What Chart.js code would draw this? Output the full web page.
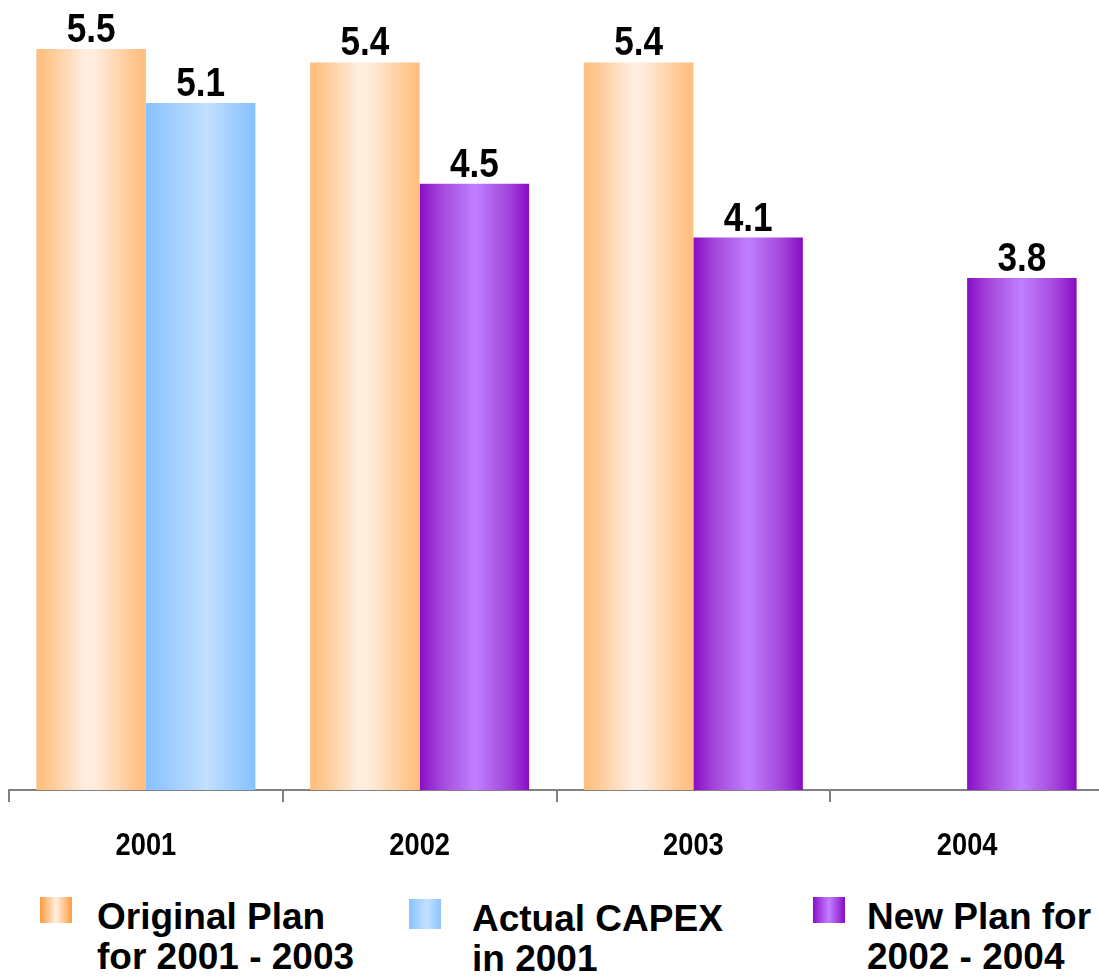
<!DOCTYPE html>
<html>
<head>
<meta charset="utf-8">
<script src="https://cdn.jsdelivr.net/npm/chart.js@4"></script>
<style>
  html, body { margin: 0; padding: 0; background: #fff; overflow: hidden; }
  body { width: 1099px; height: 978px; position: relative; }
  #capex { position: absolute; left: 0; top: 0; }
  .key { position: absolute; font: bold 37px "Liberation Sans", Arial, sans-serif; line-height: 40px; color: #000; white-space: nowrap; }
  .swatch { position: absolute; width: 32px; height: 26px; }
</style>
</head>
<body>
<canvas id="capex" width="1106" height="880"></canvas>

<div class="swatch" style="left:40px; top:897px; background:linear-gradient(90deg,#FF9A3C,#FFF0E2 50%,#FF9A3C);"></div>
<div class="key" style="left:97px; top:897px;">Original Plan<br>for 2001 - 2003</div>
<div class="swatch" style="left:409px; top:899px; height:30px; background:linear-gradient(90deg,#88C2FF,#C4E0FF 55%,#8CC4FF);"></div>
<div class="key" style="left:472px; top:899px;">Actual CAPEX<br>in 2001</div>
<div class="swatch" style="left:813px; top:897px; background:linear-gradient(90deg,#8C10C8,#C080FF 50%,#8A0CC4);"></div>
<div class="key" style="left:867px; top:897px;">New Plan for<br>2002 - 2004</div>

<script>
// CAPEX, bn per year
const years = ['2001', '2002', '2003', '2004'];
const originalPlan = [5.5, 5.4, 5.4, null];
const actualCapex = [5.1, null, null, null];
const newPlan = [null, 4.5, 4.1, 3.8];

// left / right slot of each category
const slotOf = [0, 1, 1];
const catPct = 0.8;

const gradStops = [
    [[0, '#FFBE7D'], [0.1, '#FFC58C'], [0.45, '#FFEFE2'], [0.55, '#FFEBDA'], [0.9, '#FFC58C'], [1, '#FFBE7D']],
    [[0, '#86C1FF'], [0.2, '#9CCBFF'], [0.55, '#C2DFFF'], [0.85, '#9ACAFF'], [1, '#86C1FF']],
    [[0, '#8A0CC6'], [0.2, '#A448DC'], [0.5, '#C080FF'], [0.8, '#A448DC'], [1, '#8A0CC4']]
];
const flatColors = ['#FFC890', '#A8D2FF', '#A850E0'];

function barFill(ctx) {
    const ds = ctx.datasetIndex;
    if (ctx.type !== 'data') return flatColors[ds];
    const x = ctx.chart.scales.x;
    if (!x || x.right === x.left) return flatColors[ds];
    const catW = (x.right - x.left) / years.length;
    const barW = catW * catPct / 2;
    const left = x.getPixelForValue(ctx.dataIndex) - catW * catPct / 2 + slotOf[ds] * barW;
    const g = ctx.chart.ctx.createLinearGradient(left, 0, left + barW, 0);
    gradStops[ds].forEach(s => g.addColorStop(s[0], s[1]));
    return g;
}

// value labels and condensed year labels
const labelPlugin = {
    id: 'labels',
    afterDatasetsDraw(chart) {
        const c = chart.ctx;
        c.save();
        c.fillStyle = '#000';
        c.textAlign = 'center';
        c.textBaseline = 'alphabetic';
        c.font = 'bold 40px "Liberation Sans", Arial, sans-serif';
        chart.data.datasets.forEach((ds, i) => {
            chart.getDatasetMeta(i).data.forEach((bar, j) => {
                if (ds.data[j] == null) return;
                c.save();
                c.translate(bar.x, bar.y - 7);
                c.scale(0.88, 1);
                c.fillText(ds.data[j].toFixed(1), 0, 0);
                c.restore();
            });
        });
        const x = chart.scales.x;
        c.font = 'bold 31px "Liberation Sans", Arial, sans-serif';
        x.ticks.forEach((t, i) => {
            c.save();
            c.translate(x.getPixelForTick(i), chart.chartArea.bottom + 65);
            c.scale(0.88, 1);
            c.fillText(x.getLabelForValue(t.value), 0, 0);
            c.restore();
        });
        c.restore();
    }
};

const barOpts = { backgroundColor: barFill, borderWidth: 0, barPercentage: 1, categoryPercentage: catPct };

new Chart(document.getElementById('capex'), {
    type: 'bar',
    data: {
        labels: years,
        datasets: [
            { label: 'Original Plan for 2001 - 2003', data: originalPlan, stack: 'orig', ...barOpts },
            { label: 'Actual CAPEX in 2001', data: actualCapex, stack: 'now', ...barOpts },
            { label: 'New Plan for 2002 - 2004', data: newPlan, stack: 'now', ...barOpts }
        ]
    },
    options: {
        responsive: false,
        animation: false,
        events: [],
        layout: { padding: { left: 9, right: 2, top: 49, bottom: 78 } },
        plugins: { legend: { display: false }, tooltip: { enabled: false } },
        scales: {
            x: {
                stacked: true,
                border: { color: '#808080', width: 2 },
                grid: { offset: true, drawOnChartArea: false, color: '#808080', lineWidth: 2, tickLength: 12 },
                ticks: { display: false }
            },
            y: { display: false, stacked: true, min: 0, max: 5.5 }
        }
    },
    plugins: [labelPlugin]
});
</script>
</body>
</html>
